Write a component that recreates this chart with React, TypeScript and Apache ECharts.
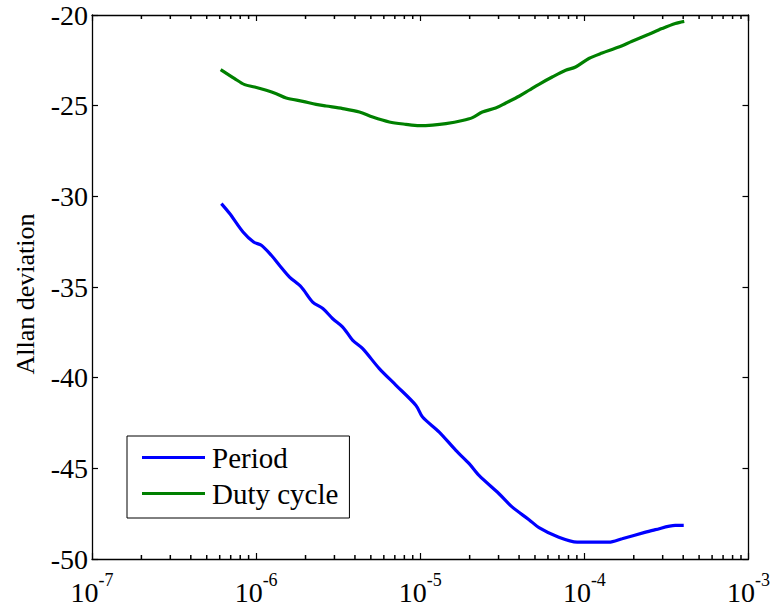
import React, { useEffect, useRef } from "react";
import * as echarts from "echarts";

// Averaging time (s) and Allan deviation values
const tauPeriod = [6.14e-7, 6.9e-7, 8.32e-7, 9.65e-7, 1.076e-6, 1.237e-6, 1.39e-6, 1.598e-6, 1.883e-6, 2.21e-6, 2.55e-6, 2.93e-6, 3.37e-6, 3.88e-6, 4.46e-6, 5.63e-6, 7.12e-6, 9.42e-6, 1.033e-5, 1.305e-5, 1.648e-5, 1.986e-5, 2.28e-5, 3.02e-5, 3.64e-5, 4.6e-5, 5.29e-5, 6.93e-5, 9.04e-5, 1.409e-4, 1.697e-4, 2.36e-4, 2.71e-4, 3.58e-4, 4.03e-4];
const period = [-30.4, -30.95, -31.97, -32.52, -32.7, -33.25, -33.81, -34.45, -35.0, -35.83, -36.19, -36.75, -37.21, -37.94, -38.4, -39.5, -40.42, -41.53, -42.17, -43.0, -44.01, -44.74, -45.39, -46.4, -47.14, -47.83, -48.27, -48.79, -49.07, -49.07, -48.88, -48.52, -48.38, -48.15, -48.15];

const tauDuty = [6.08e-7, 7.4e-7, 8.51e-7, 9.79e-7, 1.153e-6, 1.327e-6, 1.526e-6, 1.925e-6, 2.32e-6, 2.67e-6, 3.37e-6, 4.26e-6, 5.13e-6, 6.48e-6, 8.18e-6, 9.86e-6, 1.188e-5, 1.433e-5, 1.807e-5, 2.08e-5, 2.39e-5, 2.88e-5, 3.32e-5, 4.0e-5, 4.6e-5, 5.29e-5, 6.37e-5, 7.69e-5, 8.84e-5, 1.065e-4, 1.283e-4, 1.621e-4, 1.953e-4, 2.47e-4, 2.97e-4, 3.58e-4, 4.06e-4];
const duty = [-23.01, -23.51, -23.84, -23.97, -24.15, -24.34, -24.58, -24.76, -24.93, -25.02, -25.16, -25.35, -25.63, -25.9, -26.03, -26.1, -26.07, -25.99, -25.82, -25.66, -25.35, -25.13, -24.85, -24.48, -24.15, -23.82, -23.42, -23.05, -22.87, -22.4, -22.1, -21.77, -21.45, -21.06, -20.75, -20.47, -20.35];

const seriesNames = ["Period", "Duty cycle"];
const decades = [1e-7, 1e-6, 1e-5, 1e-4];
const mantissas = [2, 3, 4, 5, 6, 7, 8, 9];
const yMin = -50;
const yMax = -20;
const yStep = 5;

const FONT = "Liberation Serif";

export default function App() {
  const ref = useRef<HTMLDivElement>(null);
  useEffect(() => {
    if (!ref.current) return;
    const chart = echarts.init(ref.current, null, { renderer: "svg" });
    const minorX: number[] = [];
    decades.forEach((d) => mantissas.forEach((m) => minorX.push(d * m)));

    const axisLine = { show: true, lineStyle: { color: "#000", width: 1.3 } };
    const tick = { show: true, inside: true, length: 6, lineStyle: { color: "#000", width: 1.2 } };
    const minorSeries = (yv: number, off: number) => ({
      name: "minor" + yv,
      type: "scatter",
      silent: true,
      clip: false,
      z: 10,
      symbol: "rect",
      symbolSize: [1.5, 4],
      symbolOffset: [0, off],
      itemStyle: { color: "#000", opacity: 1 },
      data: minorX.map((v) => [v, yv]),
    });
    chart.setOption({
      animation: false,
      backgroundColor: "#fff",
      textStyle: { fontFamily: FONT },
      grid: { left: 92, right: 23, top: 15, bottom: 53, containLabel: false },
      legend: {
        data: seriesNames.map((n) => ({ name: n, icon: "rect" })),
        orient: "vertical",
        left: 127,
        top: 436,
        itemWidth: 63,
        itemHeight: 3,
        itemGap: 7,
        padding: [7, 11, 10, 15],
        borderColor: "#000",
        borderWidth: 1,
        backgroundColor: "#fff",
        textStyle: { fontFamily: FONT, fontSize: 29, color: "#000", lineHeight: 29, padding: [0, 0, 0, 2] },
      },
      xAxis: [
        {
          type: "log",
          logBase: 10,
          min: 1e-7,
          max: 1e-3,
          splitNumber: 4,
          axisLine,
          axisTick: tick,
          splitLine: { show: false },
          axisLabel: {
            margin: 12,
            color: "#000",
            fontFamily: FONT,
            formatter: (v: number) => `{b|10}{s|${Math.round(Math.log10(v))}}`,
            rich: {
              b: { fontFamily: FONT, fontSize: 28, color: "#000", lineHeight: 35, verticalAlign: "bottom" },
              s: { fontFamily: FONT, fontSize: 18, color: "#000", lineHeight: 18, verticalAlign: "top" },
            },
          },
        },
        {
          type: "log",
          logBase: 10,
          min: 1e-7,
          max: 1e-3,
          splitNumber: 4,
          position: "top",
          axisLine,
          axisTick: tick,
          axisLabel: { show: false },
          splitLine: { show: false },
        },
      ],
      yAxis: [
        {
          type: "value",
          min: yMin,
          max: yMax,
          interval: yStep,
          name: "Allan deviation",
          nameLocation: "middle",
          nameGap: 54,
          nameTextStyle: { fontFamily: FONT, fontSize: 26, color: "#000", padding: [0, 14, 0, 0] },
          axisLine,
          axisTick: tick,
          splitLine: { show: false },
          axisLabel: { fontFamily: FONT, fontSize: 28, color: "#000", margin: 4 },
        },
        {
          type: "value",
          min: yMin,
          max: yMax,
          interval: yStep,
          position: "right",
          axisLine,
          axisTick: tick,
          splitLine: { show: false },
          axisLabel: { show: false },
        },
      ],
      series: [
        {
          name: "Period",
          type: "line",
          data: tauPeriod.map((t, i) => [t, period[i]]),
          symbol: "none",
          smooth: 0.3,
          lineStyle: { color: "#0000ff", width: 3.2 },
          itemStyle: { color: "#0000ff" },
        },
        {
          name: "Duty cycle",
          type: "line",
          data: tauDuty.map((t, i) => [t, duty[i]]),
          symbol: "none",
          smooth: 0.3,
          lineStyle: { color: "#008000", width: 3.2 },
          itemStyle: { color: "#008000" },
        },
        minorSeries(yMin, -2),
        minorSeries(yMax, 2),
      ],
    });
    return () => chart.dispose();
  }, []);
  return (
    <div
      ref={ref}
      style={{ position: "fixed", left: 0, top: 0, width: 773, height: 612, background: "#fff" }}
    />
  );
}
